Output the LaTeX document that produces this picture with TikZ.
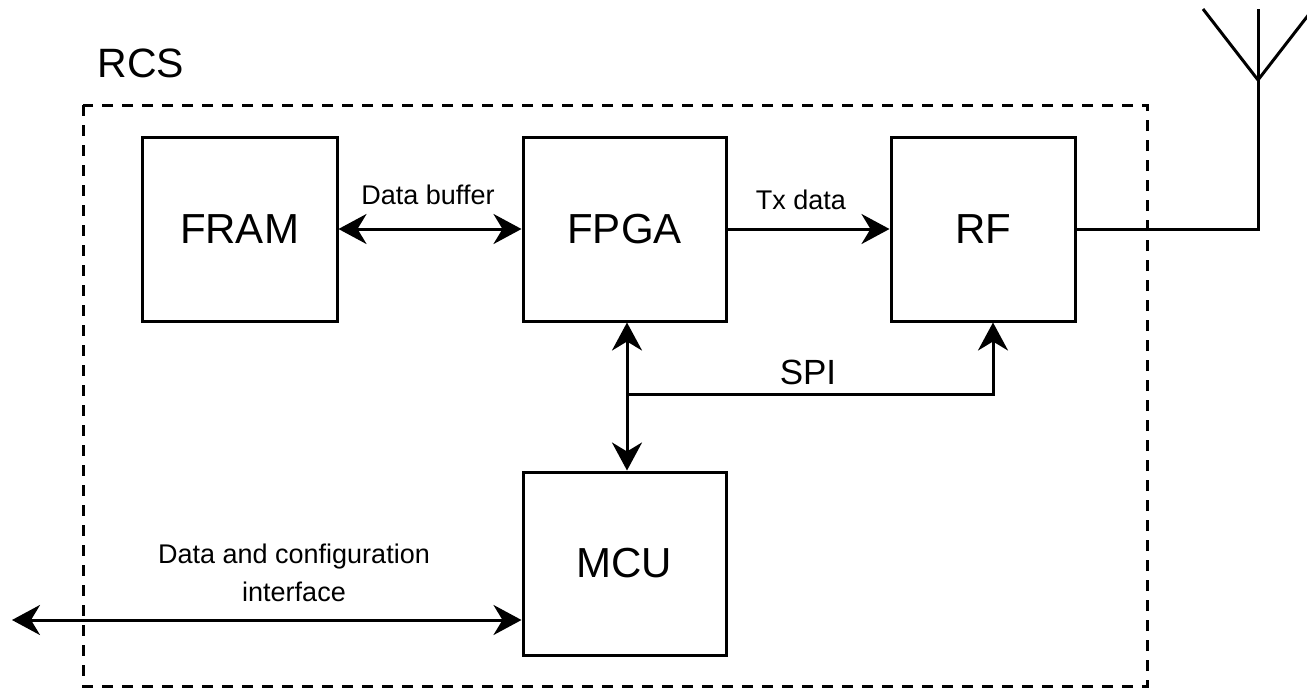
\documentclass[tikz,border=0pt]{standalone}
\usepackage{fontspec}
\setmainfont{Liberation Sans}
\usetikzlibrary{arrows.meta}
\begin{document}
\begin{tikzpicture}[x=1pt,y=-1pt,
  line width=3pt,
  blk/.style={draw, line width=3pt, inner sep=0pt, font=\fontsize{42}{50}\selectfont},
  lbl/.style={inner sep=0pt, font=\fontsize{27}{38}\selectfont, align=center},
  tip/.tip={Stealth[length=28pt, width=30pt, inset=9pt]},
  conn/.style={line width=3pt}
]
\useasboundingbox (0,0) rectangle (1307,691);
\fill[white] (0,0) rectangle (1307,691);

\node[anchor=base west, inner sep=0pt, font=\fontsize{41}{48}\selectfont] (rcs) at (96,77) {RCS};
\draw[line width=3pt, dash pattern=on 11pt off 9pt] (83,105) rectangle (1147,686);

\node[blk, minimum width=195pt, minimum height=184pt] (fram) at (239.5,229) {FRAM};
\node[blk, minimum width=203pt, minimum height=184pt] (fpga) at (624.5,229) {FPGA};
\node[blk, minimum width=184pt, minimum height=184pt] (rf) at (983,229) {RF};
\node[blk, minimum width=203pt, minimum height=183pt] (mcu) at (624.5,563.5) {MCU};

% FRAM <-> FPGA
\draw[conn, tip-tip] (fram.east) -- (fpga.west);
\node[lbl] (dbuf) at (428,195) {Data buffer};

% FPGA -> RF
\draw[conn, -tip] (fpga.east) -- (rf.west);
\node[lbl] (tx) at (801,200) {Tx data};

% SPI
\coordinate (spi) at (627,394);
\coordinate (rfx) at (993,394);
\draw[conn, tip-tip] (fpga.south -| spi) -- (mcu.north -| spi);
\draw[conn, -tip] (spi) -- (rfx) -- (rf.south -| rfx);
\node[inner sep=0pt, font=\fontsize{35}{40}\selectfont] (spil) at (808,372) {SPI};

% interface
\coordinate (ext) at (12,620);
\draw[conn, tip-tip] (ext) -- (ext -| mcu.west);
\node[lbl] (ifl) at (294,573) {Data and configuration\\interface};

% antenna
\coordinate (ant) at (1258,80);
\coordinate (antup) at (1258,9);
\coordinate (antl) at (1203,9);
\coordinate (antr) at (1313,9);
\begin{scope}
\clip (0,0) rectangle (1307,691);
\draw[conn, line join=miter] (rf.east) -- (rf.east -| ant) -- (ant) -- (antup);
\draw[conn] (antl) -- (ant) -- (antr);
\end{scope}
\end{tikzpicture}
\end{document}
